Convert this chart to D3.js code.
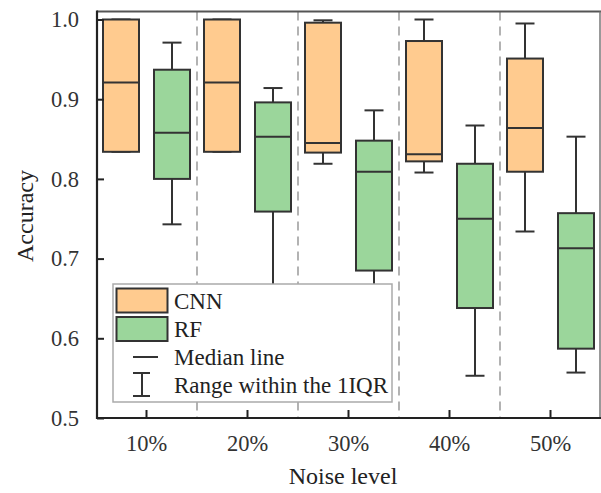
<!DOCTYPE html>
<html>
<head>
<meta charset="utf-8">
<script src="https://cdn.jsdelivr.net/npm/d3@7"></script>
<style>
  body { margin: 0; background: #fff; }
  svg { display: block; font-family: "Liberation Serif", "Times New Roman", serif; }
</style>
</head>
<body>
<div id="chart"></div>
<script>
// data
const categories = ["10%", "20%", "30%", "40%", "50%"];

const cnnMin = [0.834, 0.834, 0.819, 0.808, 0.734];
const cnnQ1  = [0.834, 0.834, 0.833, 0.822, 0.809];
const cnnMed = [0.921, 0.921, 0.845, 0.831, 0.864];
const cnnQ3  = [1.000, 1.000, 0.996, 0.973, 0.951];
const cnnMax = [1.000, 1.000, 0.999, 1.000, 0.995];

const rfMin = [0.743, 0.620, 0.620, 0.553, 0.557];
const rfQ1  = [0.800, 0.759, 0.685, 0.638, 0.587];
const rfMed = [0.858, 0.853, 0.809, 0.750, 0.713];
const rfQ3  = [0.937, 0.896, 0.848, 0.819, 0.757];
const rfMax = [0.971, 0.914, 0.886, 0.867, 0.853];

const yTicks = [0.5, 0.6, 0.7, 0.8, 0.9, 1.0];

drawChart();

function drawChart() {
  const width = 601, height = 493;
  const left = 97, right = 600, top = 11.5, bottom = 418;

  const svg = d3.select("#chart").append("svg")
    .attr("width", width)
    .attr("height", height);

  const x = d3.scaleBand().domain(categories).range([96, 601]);
  const y = d3.scaleLinear().domain([0.5, 1.0]).range([bottom, 19.5]);

  // dashed separators between groups
  svg.append("g").selectAll("line")
    .data(categories.slice(1))
    .enter().append("line")
    .attr("x1", d => x(d)).attr("x2", d => x(d))
    .attr("y1", top).attr("y2", bottom)
    .attr("stroke", "#a0a0a0")
    .attr("stroke-width", 1.6)
    .attr("stroke-dasharray", "9,6");

  const series = [
    { name: "CNN", fill: "#ffcb8f", off: -25.5, min: cnnMin, q1: cnnQ1, med: cnnMed, q3: cnnQ3, max: cnnMax },
    { name: "RF",  fill: "#9bd69b", off: 25.5,  min: rfMin,  q1: rfQ1,  med: rfMed,  q3: rfQ3,  max: rfMax }
  ];
  const boxW = 36, capW = 19;
  const ink = "#333";

  series.forEach(s => {
    const g = svg.append("g");
    const item = g.selectAll("g")
      .data(categories)
      .enter().append("g")
      .attr("transform", d => "translate(" + (x(d) + x.bandwidth() / 2 + s.off) + ",0)");

    // whiskers
    item.append("line")
      .attr("x1", 0).attr("x2", 0)
      .attr("y1", (d, i) => y(s.max[i])).attr("y2", (d, i) => y(s.q3[i]))
      .attr("stroke", ink).attr("stroke-width", 2);
    item.append("line")
      .attr("x1", 0).attr("x2", 0)
      .attr("y1", (d, i) => y(s.q1[i])).attr("y2", (d, i) => y(s.min[i]))
      .attr("stroke", ink).attr("stroke-width", 2);
    item.append("line")
      .attr("x1", -capW / 2).attr("x2", capW / 2)
      .attr("y1", (d, i) => y(s.max[i])).attr("y2", (d, i) => y(s.max[i]))
      .attr("stroke", ink).attr("stroke-width", 2);
    item.append("line")
      .attr("x1", -capW / 2).attr("x2", capW / 2)
      .attr("y1", (d, i) => y(s.min[i])).attr("y2", (d, i) => y(s.min[i]))
      .attr("stroke", ink).attr("stroke-width", 2);

    // box
    item.append("rect")
      .attr("x", -boxW / 2)
      .attr("width", boxW)
      .attr("y", (d, i) => y(s.q3[i]))
      .attr("height", (d, i) => y(s.q1[i]) - y(s.q3[i]))
      .attr("fill", s.fill)
      .attr("stroke", ink).attr("stroke-width", 2);

    // median
    item.append("line")
      .attr("x1", -boxW / 2).attr("x2", boxW / 2)
      .attr("y1", (d, i) => y(s.med[i])).attr("y2", (d, i) => y(s.med[i]))
      .attr("stroke", ink).attr("stroke-width", 2);
  });

  // legend
  const lg = svg.append("g").attr("transform", "translate(113,284)");
  lg.append("rect")
    .attr("width", 279).attr("height", 118)
    .attr("fill", "#fff")
    .attr("stroke", "#aaa").attr("stroke-width", 1.5);
  series.forEach((s, i) => {
    lg.append("rect")
      .attr("x", 3.5).attr("y", 4.5 + i * 28.5)
      .attr("width", 51).attr("height", 24)
      .attr("fill", s.fill)
      .attr("stroke", ink).attr("stroke-width", 2);
    lg.append("text")
      .attr("x", 61).attr("y", 24.5 + i * 28.5)
      .attr("font-size", 23).attr("fill", "#222")
      .text(s.name);
  });
  lg.append("line")
    .attr("x1", 20).attr("x2", 45).attr("y1", 73).attr("y2", 73)
    .attr("stroke", ink).attr("stroke-width", 2);
  lg.append("text")
    .attr("x", 61).attr("y", 81)
    .attr("font-size", 23).attr("fill", "#222")
    .text("Median line");
  lg.append("line")
    .attr("x1", 29).attr("x2", 29).attr("y1", 89).attr("y2", 112)
    .attr("stroke", ink).attr("stroke-width", 2);
  lg.append("line")
    .attr("x1", 20).attr("x2", 37).attr("y1", 89).attr("y2", 89)
    .attr("stroke", ink).attr("stroke-width", 2);
  lg.append("line")
    .attr("x1", 20).attr("x2", 37).attr("y1", 112).attr("y2", 112)
    .attr("stroke", ink).attr("stroke-width", 2);
  lg.append("text")
    .attr("x", 61).attr("y", 109)
    .attr("font-size", 23).attr("fill", "#222")
    .text("Range within the 1IQR");

  // frame (top and right)
  svg.append("line")
    .attr("x1", left).attr("x2", right + 1).attr("y1", top).attr("y2", top)
    .attr("stroke", "#555").attr("stroke-width", 2);
  svg.append("line")
    .attr("x1", right).attr("x2", right).attr("y1", top).attr("y2", bottom)
    .attr("stroke", "#777").attr("stroke-width", 1.5);

  // axes
  const yAxis = d3.axisLeft(y)
    .tickValues(yTicks)
    .tickFormat(d3.format(".1f"))
    .tickSizeInner(-7).tickSizeOuter(0).tickPadding(18);
  const yg = svg.append("g")
    .attr("transform", "translate(" + left + ",0)")
    .call(yAxis);
  yg.select(".domain").attr("stroke", "#222").attr("stroke-width", 2.2)
    .attr("d", "M0," + (top - 1) + "V" + (bottom + 1));
  yg.selectAll(".tick line").attr("stroke", "#222").attr("stroke-width", 2);
  yg.selectAll(".tick text")
    .attr("font-family", "Liberation Serif, serif")
    .attr("font-size", 22.5).attr("fill", "#333");

  const xAxis = d3.axisBottom(x)
    .tickSizeInner(-8).tickSizeOuter(0).tickPadding(17);
  const xg = svg.append("g")
    .attr("transform", "translate(0," + bottom + ")")
    .call(xAxis);
  xg.select(".domain").attr("stroke", "#222").attr("stroke-width", 2.2)
    .attr("d", "M" + (left - 1) + ",0H" + (right + 1));
  xg.selectAll(".tick line").attr("stroke", "#222").attr("stroke-width", 2);
  xg.selectAll(".tick text")
    .attr("font-family", "Liberation Serif, serif")
    .attr("font-size", 22.5).attr("fill", "#333");

  // axis titles
  svg.append("text")
    .attr("x", 343).attr("y", 484)
    .attr("text-anchor", "middle")
    .attr("font-size", 24).attr("fill", "#222")
    .text("Noise level");
  svg.append("text")
    .attr("transform", "translate(33,216) rotate(-90)")
    .attr("text-anchor", "middle")
    .attr("font-size", 24).attr("fill", "#222")
    .text("Accuracy");
}
</script>
</body>
</html>
